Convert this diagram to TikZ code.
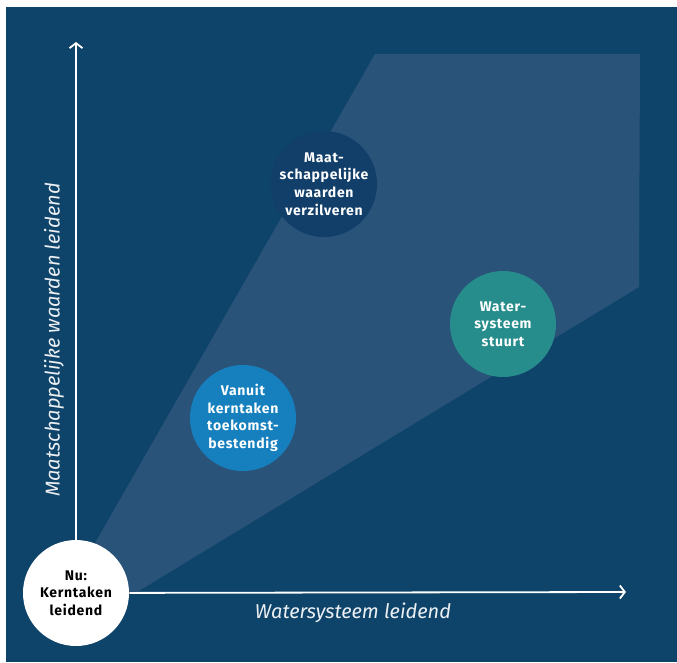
\documentclass[tikz,border=0pt]{standalone}
\usepackage{fontspec}
\setmainfont{Fira Sans}
\usepackage{tikz}
\usetikzlibrary{arrows.meta}
\definecolor{bgblue}{RGB}{14,67,106}
\definecolor{fieldblue}{RGB}{42,83,121}
\definecolor{navy}{RGB}{18,62,106}
\definecolor{skyblue}{RGB}{22,128,190}
\definecolor{teal}{RGB}{38,140,140}

\begin{document}
\begin{tikzpicture}[x=1pt,y=-1pt,>={Straight Barb[length=5pt,width=13pt]},
                    semithick]
\tikzstyle{bubble}=[circle,minimum size=106pt,inner sep=-6pt,align=center,
                    text=white,font=\fontsize{14}{17.6}\selectfont\bfseries\addfontfeature{LetterSpace=5}]
\tikzstyle{axis}=[->,draw=white,line width=1.8pt]
\tikzstyle{axislabel}=[text=white!92!bgblue,font=\fontsize{20}{24}\selectfont\itshape]
\useasboundingbox (0,0) rectangle (677,662);
\fill[bgblue] (6,7) rectangle (677,662);
\fill[fieldblue] (67,592) -- (375,54) -- (640,54) -- (639,287) -- (137,592) -- cycle;
\coordinate (ytop) at (76,42);
\coordinate (xend) at (626,592);
\node[bubble,fill=navy] (maat) at (324,184) {Maat-\\schappelijke\\waarden\\verzilveren};
\node[bubble,fill=skyblue] (vanuit) at (243,418) {Vanuit\\kerntaken\\toekomst-\\bestendig};
\node[bubble,fill=teal] (water) at (503,324) {Water-\\systeem\\stuurt};
\node[bubble,fill=white,text=black] (nu) at (76,593) {Nu:\\Kerntaken\\leidend};
\path[axis] (nu) edge (ytop)
                 edge (xend);
\node[axislabel,rotate=90] (ylabel) at (54,340) {Maatschappelijke waarden leidend};
\node[axislabel] (xlabel) at (353,613) {Watersysteem leidend};
\end{tikzpicture}
\end{document}
